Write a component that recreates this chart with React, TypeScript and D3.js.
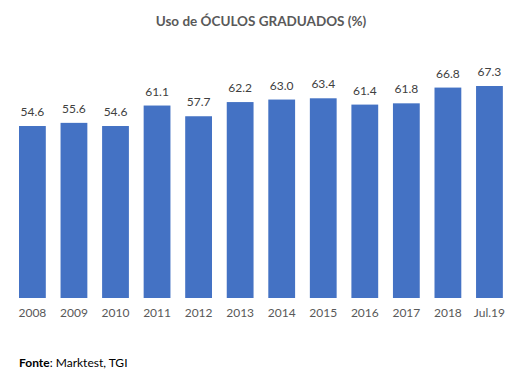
import React from "react";
import * as d3 from "d3";

const categories = ["2008", "2009", "2010", "2011", "2012", "2013", "2014", "2015", "2016", "2017", "2018", "Jul.19"];
const values = [54.6, 55.6, 54.6, 61.1, 57.7, 62.2, 63.0, 63.4, 61.4, 61.8, 66.8, 67.3];
const title = "Uso de ÓCULOS GRADUADOS (%)";

const W = 525;
const H = 380;
const FONT = "Lato, 'Open Sans', sans-serif";

export default function App() {
  const x = d3.scaleBand<string>().domain(categories).range([19, 502.85]).paddingInner(0.355).paddingOuter(0);
  const y = d3.scaleLinear().domain([0, 80]).range([298, 46]);

  return (
    <svg width={W} height={H} style={{ position: "absolute", left: 0, top: 0, background: "#fff" }} fontFamily={FONT}>
      <rect width={W} height={H} fill="#fff" />
      <text x={261} y={26} textAnchor="middle" fontSize={13.5} fontWeight="bold" fill="#595959">{title}</text>
      {categories.map((c, i) => (
        <g key={c}>
          <rect x={x(c)} y={y(values[i])} width={x.bandwidth()} height={y(0) - y(values[i])} fill="#4472C4" />
          <text x={(x(c) as number) + x.bandwidth() / 2} y={y(values[i]) - 10} textAnchor="middle" fontSize={12} fill="#404040">{values[i].toFixed(1)}</text>
          <text x={(x(c) as number) + x.bandwidth() / 2} y={317} textAnchor="middle" fontSize={12} fill="#595959">{c}</text>
        </g>
      ))}
      <text x={19} y={367} fontSize={12} fill="#000">
        <tspan fontWeight="bold">Fonte</tspan>: Marktest, TGI
      </text>
    </svg>
  );
}
